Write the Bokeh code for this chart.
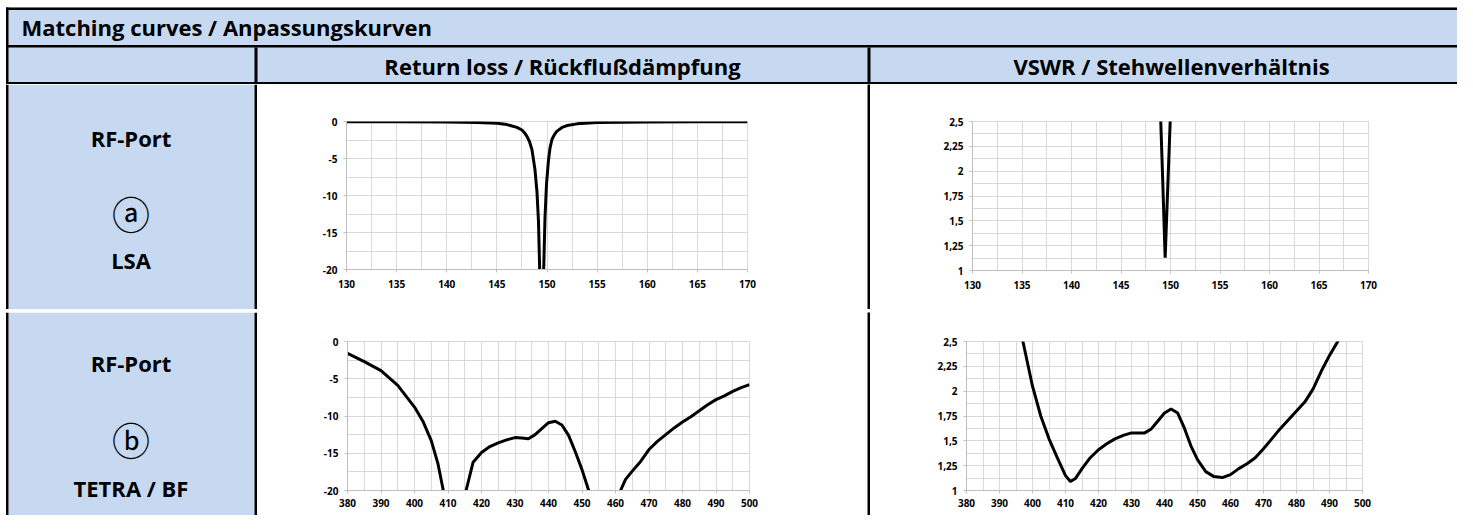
from bokeh.plotting import figure
from bokeh.layouts import column, row
from bokeh.models import Range1d, FixedTicker, CustomJSTickFormatter, Label
from bokeh.embed import file_html
from bokeh.resources import INLINE

# ---------------- data ----------------
title_text = "Matching curves / Anpassungskurven"
col_titles = ["Return loss / Rückflußdämpfung", "VSWR / Stehwellenverhältnis"]
row_a_labels = ["RF-Port", "ⓐ", "LSA"]
row_b_labels = ["RF-Port", "ⓑ", "TETRA / BF"]

lsa_rl_f = [130, 135, 140, 143, 145, 146, 147, 147.5, 147.8, 148, 148.25, 148.5, 148.8, 149.0,
            149.15, 149.27, 149.47, 149.67, 149.8, 149.95, 150.15, 150.3, 150.5, 150.75, 151,
            151.5, 152, 153, 155, 160, 165, 170]
lsa_rl = [-0.03, -0.04, -0.07, -0.13, -0.25, -0.42, -0.8, -1.15, -1.6, -2.0, -2.7, -3.8, -6.5,
          -9.5, -13.5, -20, -24.3, -20, -13.0, -8.5, -5.2, -3.6, -2.4, -1.75, -1.3,
          -0.8, -0.55, -0.32, -0.15, -0.07, -0.05, -0.04]

lsa_vswr_f = [148.85, 149.2, 149.46, 149.72, 150.06]
lsa_vswr = [3.0, 1.95, 1.13, 1.83, 2.75]

tetra_rl_f = [380, 385, 390, 395, 400, 402.5, 405, 407, 408.6, 410, 411.5, 413, 415.4, 417.5,
              420, 422.5, 425, 427.5, 430, 432, 434, 436, 438, 440, 442, 444, 446, 448, 450,
              452, 454, 456, 458.5, 461.5, 463, 465, 467.5, 470, 472.5, 475, 477.5, 480,
              482.5, 485, 487.5, 490, 492.5, 495, 497.5, 500]
tetra_rl = [-1.6, -2.7, -3.9, -5.9, -8.8, -10.7, -13.3, -16.4, -20, -23.5, -27, -24.5, -20, -16.2,
            -14.9, -14.1, -13.6, -13.2, -12.9, -12.95, -13.05, -12.5, -11.7, -10.9, -10.7, -11.2,
            -12.6, -14.8, -17.2, -20, -22.5, -24.3, -23.0, -20, -18.5, -17.4, -16.1, -14.5,
            -13.4, -12.5, -11.6, -10.8, -10.1, -9.3, -8.5, -7.8, -7.3, -6.7, -6.2, -5.8]

tetra_vswr_f = [395, 397.1, 400, 402.5, 405, 407.5, 410, 411.5, 413, 415, 417.5, 420, 422.5, 425,
                427.5, 430, 432, 434, 436, 438, 440, 442, 444, 446, 448, 450, 452.5, 455, 457.5,
                460, 462.5, 465, 467.5, 470, 472.5, 475, 477.5, 480, 482.5, 485, 487.5, 490,
                492.5, 494]
tetra_vswr = [2.95, 2.5, 2.05, 1.75, 1.52, 1.33, 1.15, 1.09, 1.12, 1.22, 1.33, 1.41, 1.47, 1.52,
              1.555, 1.58, 1.58, 1.58, 1.62, 1.70, 1.78, 1.82, 1.78, 1.63, 1.45, 1.31, 1.19, 1.14,
              1.13, 1.16, 1.22, 1.27, 1.33, 1.42, 1.52, 1.62, 1.71, 1.80, 1.89, 2.02, 2.2, 2.36,
              2.5, 2.6]

lsa_x_ticks = [130, 135, 140, 145, 150, 155, 160, 165, 170]
lsa_x_grid = [130 + 2.5 * i for i in range(17)]
tetra_x_ticks = [380, 390, 400, 410, 420, 430, 440, 450, 460, 470, 480, 490, 500]
tetra_x_grid = [380 + 5 * i for i in range(25)]
rl_y_ticks = [0, -5, -10, -15, -20]
rl_y_grid = [-2.5 * i for i in range(9)]
vswr_y_ticks = [1, 1.25, 1.5, 1.75, 2, 2.25, 2.5]
vswr_y_grid = [1 + 0.125 * i for i in range(13)]

# ---------------- styles ----------------
FONT = "Open Sans"
BLUE = "#c6d9f1"
BLACK = "#000000"
GRID = "#d9d9d9"
W = 1457
HDR_H = 84
LW = 257
C1W = 610
SEPW = 3
C2W = 587
RAH = 225
RBH = 203
RA_Y = HDR_H
RB_Y = HDR_H + RAH + 3
TL = 5.5           # table left edge


def canvas(x0, y0, w, h, fill="white"):
    p = figure(width=w, height=h, x_range=Range1d(x0, x0 + w), y_range=Range1d(y0 + h, y0),
               min_border=0, min_border_top=0, min_border_bottom=0,
               min_border_left=0, min_border_right=0, frame_align=False,
               toolbar_location=None, output_backend="svg",
               x_axis_location=None, y_axis_location=None,
               background_fill_color=fill, border_fill_color=fill,
               outline_line_color=None)
    p.grid.visible = False
    return p


def boxes(p, bx, color):
    p.quad(left=[b[0] for b in bx], right=[b[1] for b in bx],
           top=[b[2] for b in bx], bottom=[b[3] for b in bx],
           fill_color=color, line_color=None)


def put(p, x, y, txt, size, style="bold", font=FONT, align="center"):
    p.add_layout(Label(x=x, y=y, text=txt, text_font=font, text_font_style=style,
                       text_font_size=size, text_align=align, text_baseline="middle",
                       text_color=BLACK))


# header (two rows)
hdr = canvas(0, 0, W, HDR_H)
boxes(hdr, [(TL, W, 7, HDR_H)], BLUE)
boxes(hdr, [(TL, W, 7, 9.5), (TL, W, 44.5, 47), (TL, W, 81.5, 84),
            (TL, 8, 7, HDR_H), (254, LW, 47, HDR_H), (LW + C1W, LW + C1W + SEPW, 47, HDR_H)],
      BLACK)
put(hdr, 21, 26.5, title_text, "22px", align="left")
put(hdr, 562, 65.8, col_titles[0], "22px")
put(hdr, 1171, 65.8, col_titles[1], "22px")


# label cells
def label_cell(y0, h, labels, ys):
    p = canvas(0, y0, LW, h)
    boxes(p, [(8, 254, y0, y0 + h)], BLUE)
    boxes(p, [(TL, 8, y0, y0 + h), (254, LW, y0, y0 + h)], BLACK)
    cx = 130.5
    put(p, cx, ys[0], labels[0], "22px")
    put(p, cx, ys[1], labels[1], "38px", style="normal", font="Noto Sans CJK JP")
    put(p, cx, ys[2], labels[2], "22px")
    return p


la = label_cell(RA_Y, RAH, row_a_labels, [137.2, 211.7, 259.5])
lb = label_cell(RB_Y, RBH, row_b_labels, [362.8, 438.3, 487.2])


def chart(w, h, left, right, top, bottom, xr, yr, xticks, xgrid, yticks, ygrid, xs, ys,
          xstand):
    p = figure(width=w, height=h, x_range=Range1d(*xr), y_range=Range1d(*yr),
               min_border_left=left, min_border_right=right,
               min_border_top=top, min_border_bottom=bottom, frame_align=False,
               toolbar_location=None, output_backend="svg",
               background_fill_color="white", border_fill_color="white",
               outline_line_color=GRID)
    p.xaxis.ticker = FixedTicker(ticks=xticks)
    p.yaxis.ticker = FixedTicker(ticks=yticks)
    p.xgrid.ticker = FixedTicker(ticks=xgrid)
    p.ygrid.ticker = FixedTicker(ticks=ygrid)
    p.grid.grid_line_color = GRID
    p.grid.grid_line_width = 1
    fmt = CustomJSTickFormatter(code="return String(tick).replace('.', ',');")
    for ax in (p.xaxis[0], p.yaxis[0]):
        ax.formatter = fmt
        ax.axis_line_color = "#bfbfbf"
        ax.major_tick_line_color = "#bfbfbf"
        ax.major_tick_out = 3
        ax.major_tick_in = 0
        ax.minor_tick_line_color = None
        ax.major_label_text_font = FONT
        ax.major_label_text_font_style = "bold"
        ax.major_label_text_font_size = "10px"
        ax.major_label_text_color = BLACK
    p.xaxis[0].major_label_standoff = xstand
    p.yaxis[0].major_label_standoff = 6
    p.line(xs, ys, line_color=BLACK, line_width=3)
    return p


c1 = chart(C1W, RAH, 89, 120, 37, 40, (130, 170), (-20, 0), lsa_x_ticks, lsa_x_grid,
           rl_y_ticks, rl_y_grid, lsa_rl_f, lsa_rl, 7)
c2 = chart(C2W, RAH, 102, 89, 37, 39, (130, 170), (1, 2.5), lsa_x_ticks, lsa_x_grid,
           vswr_y_ticks, vswr_y_grid, lsa_vswr_f, lsa_vswr, 7)
c3 = chart(C1W, RBH, 90, 118, 29, 25, (380, 500), (-20, 0), tetra_x_ticks, tetra_x_grid,
           rl_y_ticks, rl_y_grid, tetra_rl_f, tetra_rl, 5)
c4 = chart(C2W, RBH, 96, 95, 29, 25, (380, 500), (1, 2.5), tetra_x_ticks, tetra_x_grid,
           vswr_y_ticks, vswr_y_grid, tetra_vswr_f, tetra_vswr, 5)

sep_a = canvas(0, 0, SEPW, RAH, BLACK)
sep_b = canvas(0, 0, SEPW, RBH, BLACK)
hs = canvas(0, RA_Y + RAH, W, 3)
boxes(hs, [(TL, W, RA_Y + RAH, RA_Y + RAH + 3)], BLACK)

layout = column(hdr, row(la, c1, sep_a, c2), hs, row(lb, c3, sep_b, c4))

open("out.html", "w").write(file_html(layout, INLINE))
